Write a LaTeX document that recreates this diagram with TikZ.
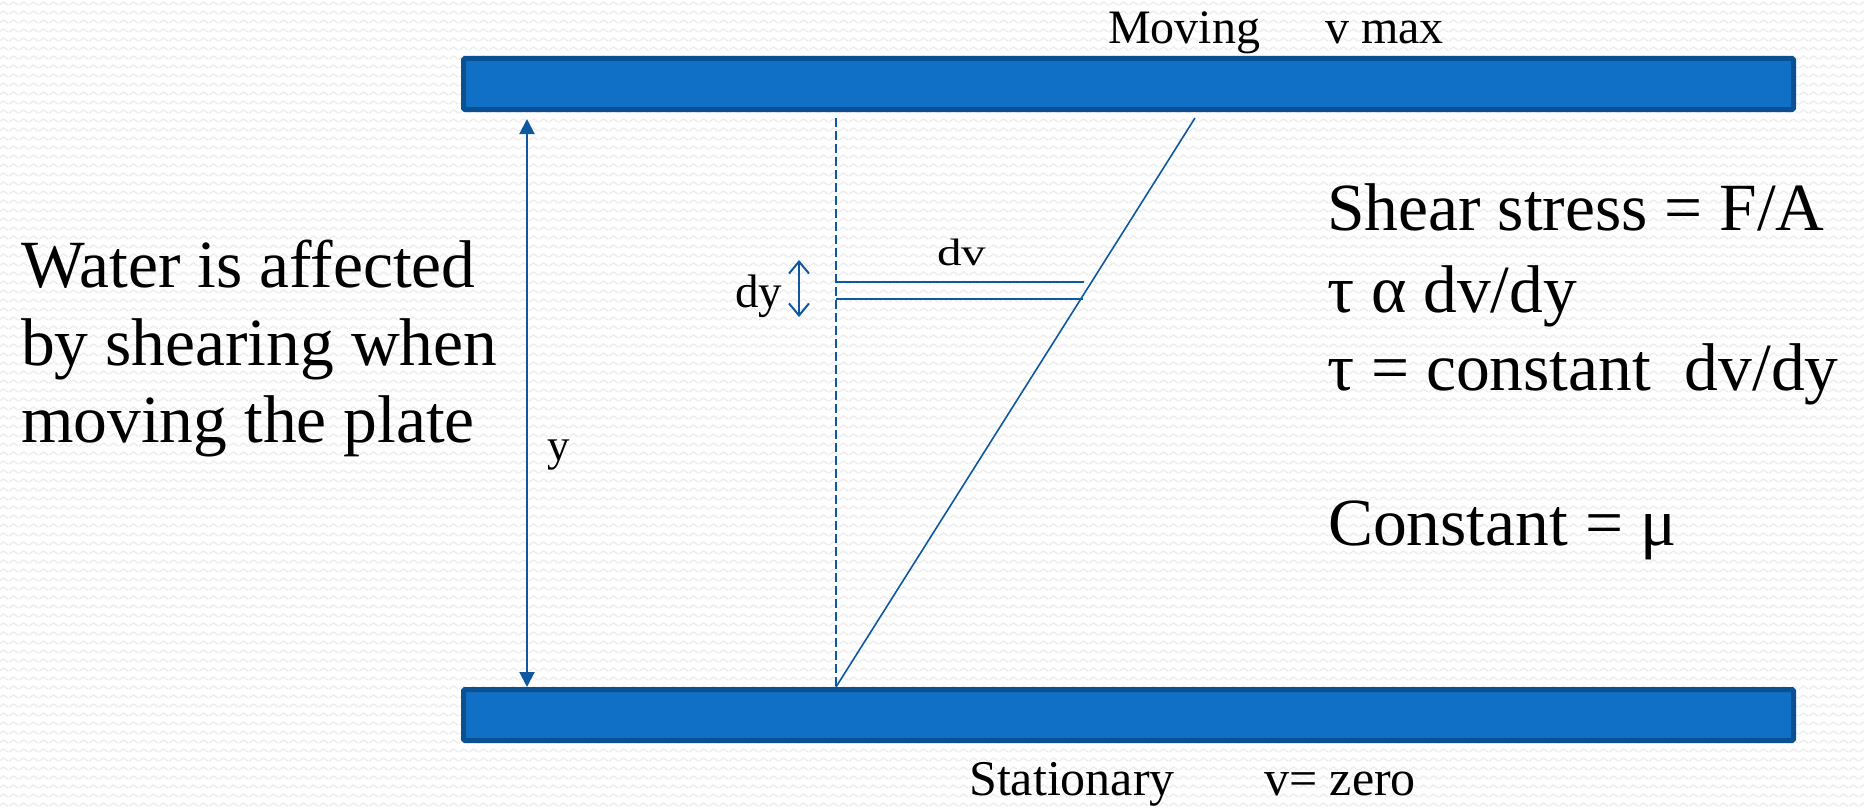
\documentclass[tikz,border=0pt]{standalone}
\usepackage{fontspec}
\usepackage{graphicx}
\setmainfont{Liberation Serif}
\usetikzlibrary{arrows.meta,patterns}
\definecolor{platefill}{RGB}{16,112,197}
\definecolor{plateedge}{RGB}{10,80,146}
\definecolor{linecol}{RGB}{14,88,160}
\definecolor{zig}{RGB}{236,236,236}
\pgfdeclarepatternformonly{zigzag}{\pgfqpoint{0pt}{0pt}}{\pgfqpoint{10pt}{9.4pt}}{\pgfqpoint{10pt}{9.4pt}}{%
  \pgfsetlinewidth{1.3pt}\pgfsetroundjoin
  \pgfpathmoveto{\pgfqpoint{0pt}{3pt}}%
  \pgfpathlineto{\pgfqpoint{5pt}{6.5pt}}%
  \pgfpathlineto{\pgfqpoint{10pt}{3pt}}%
  \pgfusepath{stroke}}
\tikzset{
  plate/.style={draw=plateedge, line width=5pt, fill=platefill, minimum width=1330pt,
    minimum height=51pt, inner sep=0pt, rounded corners=1.5pt},
  lbl/.style={inner sep=0pt, anchor=base west, font=\fontsize{48}{58}\selectfont},
  big/.style={inner sep=0pt, anchor=base west, font=\fontsize{67.5}{78}\selectfont},
  flow/.style={draw=linecol, line width=1.6pt},
  dimarrow/.style={draw=linecol, line width=2pt,
    {Triangle[length=15pt,width=15pt]}-{Triangle[length=15pt,width=15pt]}},
  smallarrow/.style={draw=linecol, line width=2pt,
    {Straight Barb[length=12pt,width=20pt]}-{Straight Barb[length=12pt,width=20pt]}}
}
\begin{document}
\begin{tikzpicture}[x=1pt,y=-1pt]
\useasboundingbox (0,0) rectangle (1864,808);
\fill[white] (0,0) rectangle (1864,808);
\fill[pattern=zigzag, pattern color=zig] (0,0) rectangle (1864,808);

% plates
\node[plate] (topplate) at (1128.5,84) {};
\node[plate] (botplate) at (1128.5,715) {};

% coordinates
\coordinate (ytop) at (527,119);
\coordinate (ybot) at (527,687);
\coordinate (dashtop) at (836,118);
\coordinate (origin) at (836,687);
\coordinate (vtop) at (1195,118);
\coordinate (l1a) at (836,282);
\coordinate (l1b) at (1084,282);
\coordinate (l2a) at (836,299);
\coordinate (l2b) at (1083,299);
\coordinate (dyt) at (799,260);
\coordinate (dyb) at (799,317);

% connectors
\draw[dimarrow] (ytop) -- (ybot);
\draw[flow, line width=1.5pt, dash pattern=on 9pt off 4pt] (dashtop) -- (origin);
\draw[flow] (origin) -- (vtop);
\draw[flow] (l1a) -- (l1b);
\draw[flow] (l2a) -- (l2b);
\draw[smallarrow] (dyt) -- (dyb);

% small labels
\node[lbl] (moving) at (1108,44) {Moving};
\node[lbl] (vmax) at (1325,44) {v max};
\node[lbl, font=\fontsize{50}{60}\selectfont] (stat) at (969,795) {Stationary};
\node[lbl, font=\fontsize{50}{60}\selectfont] (vzero) at (1264,795) {v= zero};
\node[lbl, font=\fontsize{47}{56}\selectfont] (dylab) at (735,307) {dy};
\node[lbl, font=\fontsize{49}{58}\selectfont] (dvlab) at (937,265) {\scalebox{1}[0.78]{dv}};
\node[lbl, font=\fontsize{45}{54}\selectfont] (ylab) at (547,460) {y};

% big text
\node[big] (w1) at (21,287) {Water is affected};
\node[big] (w2) at (21,365) {by shearing when};
\node[big] (w3) at (21,442) {moving the plate};
\node[big] (s1) at (1327,230) {Shear stress = F/A};
\node[big] (s2) at (1327,312) {τ α dv/dy};
\node[big] (s3) at (1327,390) {τ = constant\ \ dv/dy};
\node[big] (s4) at (1328,545) {Constant = μ};
\end{tikzpicture}
\end{document}
